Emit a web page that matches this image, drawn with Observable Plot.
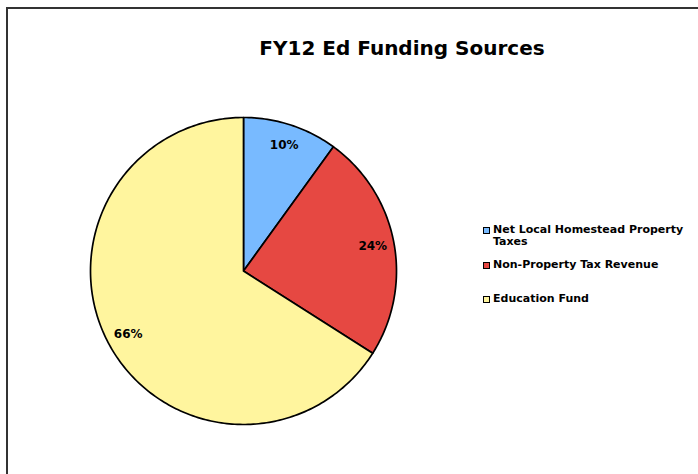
<!DOCTYPE html>
<html>
<head>
<meta charset="utf-8">
<script src="https://cdn.jsdelivr.net/npm/d3@7"></script>
<script src="https://cdn.jsdelivr.net/npm/@observablehq/plot@0.6"></script>
<style>
  html, body { margin: 0; padding: 0; background: #fff; overflow: hidden; }
  body { width: 698px; height: 474px; position: relative; font-family: "DejaVu Sans", Verdana, sans-serif; }
  #frame { position: absolute; left: 6px; top: 7px; width: 760px; height: 520px; border: 2px solid #333; box-sizing: border-box; }
  #title { position: absolute; left: 0; width: 804px; top: 36px; text-align: center; font-weight: bold; font-size: 20px; color: #000; }
  #chart { position: absolute; left: 0; top: 0; }
  #legend { position: absolute; left: 483px; top: 224px; font-size: 11px; font-weight: bold; color: #000; }
  .item { position: relative; padding-left: 10px; line-height: 12px; width: 205px; }
  .sw { position: absolute; left: 0; top: 3px; width: 5px; height: 5px; border: 1px solid #000; }
</style>
</head>
<body>
<div id="frame"></div>
<div id="title">FY12 Ed Funding Sources</div>
<div id="chart"></div>
<div id="legend"></div>
<script>
const categories = ["Net Local Homestead Property Taxes", "Non-Property Tax Revenue", "Education Fund"];
const values = [10, 24, 66];
const colors = ["#78BAFF", "#E64842", "#FFF59E"];
const labels = ["10%", "24%", "66%"];

const pie = d3.pie().sort(null).value(d => d.value)(categories.map((c, i) => ({key: c, value: values[i]})));

const pts = [];
pie.forEach(s => {
  pts.push({key: s.data.key, x: 0, y: 0});
  const n = Math.max(2, Math.ceil((s.endAngle - s.startAngle) * 180 / Math.PI));
  for (let k = 0; k <= n; k++) {
    const a = s.startAngle + (s.endAngle - s.startAngle) * k / n;
    pts.push({key: s.data.key, x: Math.sin(a), y: Math.cos(a)});
  }
});
const labelPts = pie.map((s, i) => {
  const a = (s.startAngle + s.endAngle) / 2;
  return {text: labels[i], x: 0.86 * Math.sin(a), y: 0.86 * Math.cos(a)};
});

const chart = Plot.plot({
  width: 698,
  height: 474,
  marginLeft: 90,
  marginRight: 302,
  marginTop: 117,
  marginBottom: 50,
  x: {domain: [-1, 1], axis: null},
  y: {domain: [-1, 1], axis: null},
  color: {domain: categories, range: colors},
  style: {background: "transparent", overflow: "visible"},
  marks: [
    Plot.line(pts, {x: "x", y: "y", z: "key", fill: "key", stroke: "#000", strokeWidth: 1.7, curve: "linear-closed", strokeLinejoin: "round"}),
    Plot.text(labelPts, {x: "x", y: "y", text: "text", fontWeight: "bold", fontSize: 12, fill: "#000", fontFamily: "DejaVu Sans", letterSpacing: 0.5})
  ]
});
document.getElementById("chart").appendChild(chart);

const leg = document.getElementById("legend");
const gaps = [0, 11, 22];
categories.forEach((c, i) => {
  const d = document.createElement("div");
  d.className = "item";
  d.style.marginTop = gaps[i] + "px";
  d.innerHTML = `<span class="sw" style="background:${colors[i]}"></span>${c}`;
  leg.appendChild(d);
});
</script>
</body>
</html>
